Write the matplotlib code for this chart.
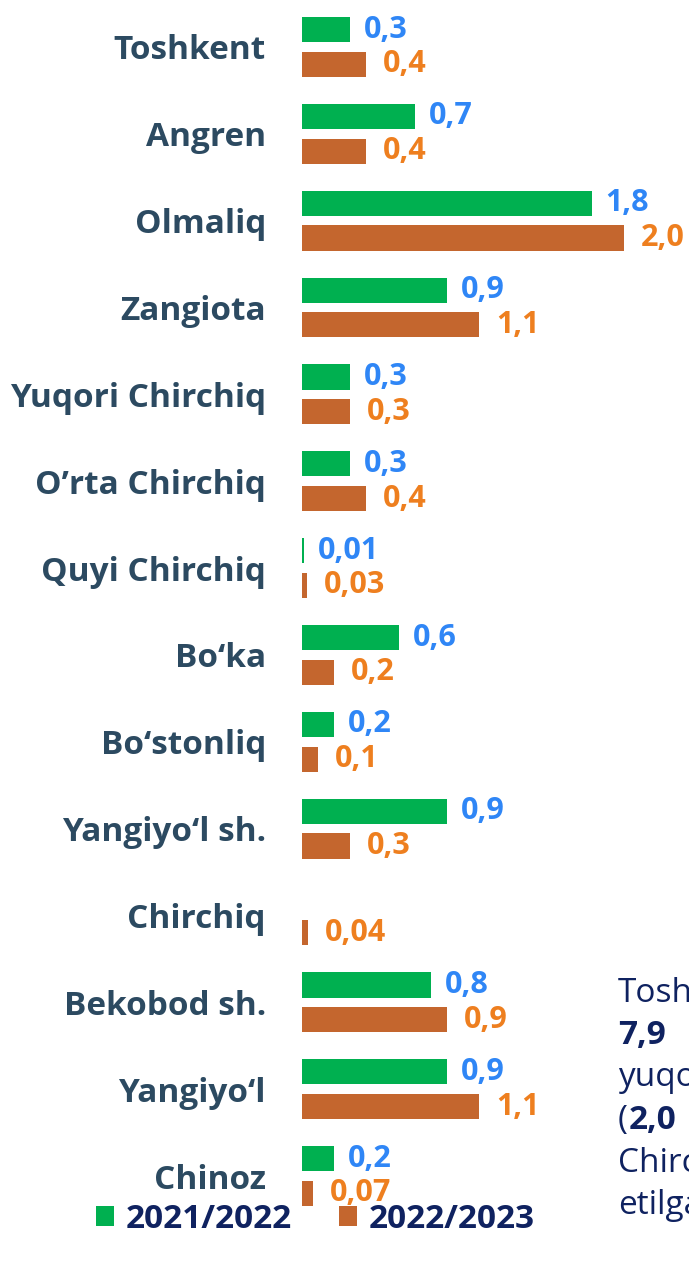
import matplotlib.pyplot as plt
import numpy as np

plt.rcParams['font.family'] = ['Open Sans', 'DejaVu Sans']

districts = ['Toshkent', 'Angren', 'Olmaliq', 'Zangiota', 'Yuqori Chirchiq',
             'O\u2019rta Chirchiq', 'Quyi Chirchiq', 'Bo\u2018ka', 'Bo\u2018stonliq',
             'Yangiyo\u2018l sh.', 'Chirchiq', 'Bekobod sh.', 'Yangiyo\u2018l', 'Chinoz']
y2122 = [0.3, 0.7, 1.8, 0.9, 0.3, 0.3, 0.01, 0.6, 0.2, 0.9, np.nan, 0.8, 0.9, 0.2]
y2223 = [0.4, 0.4, 2.0, 1.1, 0.3, 0.4, 0.03, 0.2, 0.1, 0.3, 0.04, 0.9, 1.1, 0.07]
lab2122 = ['0,3', '0,7', '1,8', '0,9', '0,3', '0,3', '0,01', '0,6', '0,2', '0,9', '', '0,8', '0,9', '0,2']
lab2223 = ['0,4', '0,4', '2,0', '1,1', '0,3', '0,4', '0,03', '0,2', '0,1', '0,3', '0,04', '0,9', '1,1', '0,07']

green = '#00b050'
brown = '#c4662e'
blue_txt = '#2f86f6'
orange_txt = '#ee7f1f'
navy = '#0f2260'
slate = '#2c4a61'

fig = plt.figure(figsize=(6.89, 12.61), dpi=100)
ax = fig.add_axes([302 / 689, 1 - 1219.5 / 1261, 1 - 302 / 689, 1216 / 1261])

pos = np.arange(len(districts))
h = 0.29
b1 = ax.barh(pos - 0.2, y2122, height=h, color=green)
b2 = ax.barh(pos + 0.2, y2223, height=h, color=brown)

for p, v, t in zip(pos, y2122, lab2122):
    if t:
        ax.annotate(t, (v, p - 0.2), xytext=(10, 0), textcoords='offset points',
                    va='center', ha='left', color=blue_txt, fontsize=22, fontweight='bold')
for p, v, t in zip(pos, y2223, lab2223):
    ax.annotate(t, (v, p + 0.2), xytext=(12, 0), textcoords='offset points',
                va='center', ha='left', color=orange_txt, fontsize=22, fontweight='bold')

ax.set_xlim(0, 387 / 161)
ax.set_ylim(13.5, -0.5)
ax.set_yticks(pos)
ax.set_yticklabels(districts, fontsize=24, fontweight='bold', color=slate)
ax.tick_params(axis='y', length=0, pad=26)
ax.set_xticks([])
for s in ax.spines.values():
    s.set_visible(False)

fig.legend([b1, b2], ['2021/2022', '2022/2023'], loc='center', bbox_to_anchor=(0.458, 1 - 1219 / 1261),
           ncol=2, frameon=False, handlelength=0.55, handleheight=0.55, handletextpad=0.35,
           columnspacing=1.4, prop={'size': 24, 'weight': 'bold'}, labelcolor=navy)

side = [('Toshkent', 'normal'), ('7,9', 'bold'), ('yuqori', 'normal'),
        ('(', 'normal'), ('Chirchiq', 'normal'), ('etilgan', 'normal')]
for i, (t, w) in enumerate(side):
    fig.text(618 / 689, 1 - (993 + 42.5 * i) / 1261, t, fontsize=24, fontweight=w,
             color=navy, va='center', ha='left')
fig.text(629 / 689, 1 - (993 + 42.5 * 3) / 1261, '2,0', fontsize=24, fontweight='bold',
         color=navy, va='center', ha='left')

fig.savefig('out.png', dpi=100)
